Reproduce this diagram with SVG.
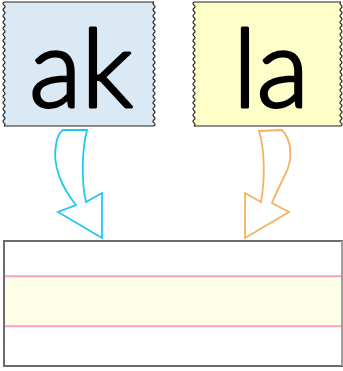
<svg xmlns="http://www.w3.org/2000/svg" width="343" height="371" viewBox="0 0 343 371">
<defs>
<style>
.card-edge{fill:none;stroke:#222;stroke-width:1.2}
.letters{font-family:Lato,"Liberation Sans",sans-serif;font-weight:300;font-size:108px;fill:#000;stroke:#000;stroke-width:3;stroke-linejoin:round;stroke-linecap:round;text-anchor:middle}
.arrow{fill:#fff;stroke-width:1.8;stroke-linejoin:miter}
.guide{stroke:#f7a1c8;stroke-width:2}
</style>
<path id="wave" d="M0,0 q-2,1.55 0,3.1 q2,1.55 0,3.1 q-2,1.55 0,3.1 q2,1.55 0,3.1 q-2,1.55 0,3.1 q2,1.55 0,3.1 q-2,1.55 0,3.1 q2,1.55 0,3.1 q-2,1.55 0,3.1 q2,1.55 0,3.1 q-2,1.55 0,3.1 q2,1.55 0,3.1 q-2,1.55 0,3.1 q2,1.55 0,3.1 q-2,1.55 0,3.1 q2,1.55 0,3.1 q-2,1.55 0,3.1 q2,1.55 0,3.1 q-2,1.55 0,3.1 q2,1.55 0,3.1 q-2,1.55 0,3.1 q2,1.55 0,3.1 q-2,1.55 0,3.1 q2,1.55 0,3.1 q-2,1.55 0,3.1 q2,1.55 0,3.1 q-2,1.55 0,3.1 q2,1.55 0,3.1 q-2,1.55 0,3.1 q2,1.55 0,3.1 q-2,1.55 0,3.1 q2,1.55 0,3.1 q-2,1.55 0,3.1 q2,1.55 0,3.1 q-2,1.55 0,3.1 q2,1.55 0,3.1 q-2,1.55 0,3.1 q2,1.55 0,3.1 q-2,1.55 0,3.1 q2,1.55 0,3.1"/>
</defs>
<rect width="343" height="371" fill="#fff"/>

<g id="card-ak">
<rect x="4" y="2" width="150" height="124" fill="#dbe9f5"/>
<line class="card-edge" x1="4" y1="2" x2="154" y2="2"/>
<line class="card-edge" x1="4" y1="126" x2="154" y2="126"/>
<use href="#wave" x="4" y="2" class="card-edge"/>
<use href="#wave" x="154" y="2" class="card-edge"/>
<text class="letters" x="81" y="107">ak</text>
</g>

<g id="card-la">
<rect x="194" y="2" width="147" height="124" fill="#fefec9"/>
<line class="card-edge" x1="194" y1="2" x2="341" y2="2"/>
<line class="card-edge" x1="194" y1="126" x2="341" y2="126"/>
<use href="#wave" x="194" y="2" class="card-edge"/>
<use href="#wave" x="341" y="2" class="card-edge"/>
<text class="letters" x="271" y="107">la</text>
</g>

<g id="writing-strip">
<rect x="4" y="241" width="339" height="125" fill="#fff" stroke="#6b6b6b" stroke-width="2"/>
<rect x="5" y="276" width="337" height="50" fill="#fffee6"/>
<line class="guide" x1="5" y1="276.3" x2="342" y2="276.3"/>
<line class="guide" x1="5" y1="326.3" x2="342" y2="326.3"/>
<line x1="342" y1="241" x2="342" y2="366" stroke="#a0a0a0" stroke-width="2"/>
</g>

<g id="connectors">
<path class="arrow" stroke="#22c8ee" d="M63,130 L87,130 C82,150 81,180 86,202 L102,193 L102,238 L58,212 L76,205 C62,188 52,165 56,145 C57,137 60,132 63,130 Z"/>
<path class="arrow" stroke="#f5b160" d="M259,131 L282,130 C292,140 293,160 285,175 C280,185 275,195 272,203 L289,212 L245,238 L245,193 L261,202 C265,180 265,150 259,131 Z"/>
</g>
</svg>
